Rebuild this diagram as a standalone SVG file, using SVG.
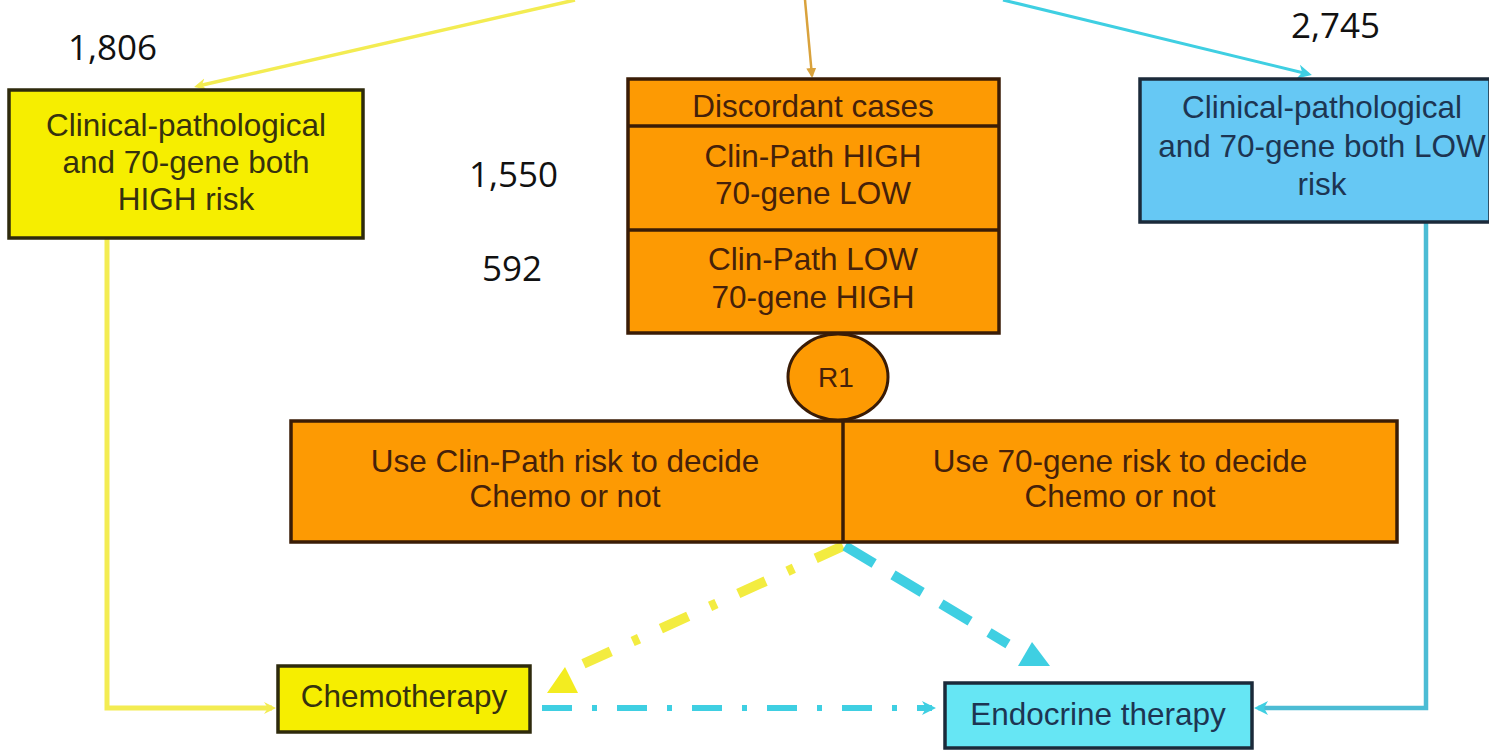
<svg xmlns="http://www.w3.org/2000/svg" width="1489" height="750" viewBox="0 0 1489 750">
  <style>
    .box { stroke-width: 3.5; }
    .yel { fill: #f6ee00; stroke: #2e2a0c; }
    .org { fill: #fd9a03; stroke: #3a1c06; }
    .blu { fill: #66c8f4; stroke: #1b2a3a; }
    .cyn { fill: #66e6f4; stroke: #1b2a3a; }
    .t { font-family: "Liberation Sans", Arial, sans-serif; font-size: 31.5px; text-anchor: middle; }
    .ty { fill: #36320e; }
    .to { fill: #45210a; }
    .tb { fill: #1d3552; }
    .num { font-family: "Open Sans", "Noto Sans", sans-serif; font-size: 35px; fill: #111; }
    .ly { stroke: #f3ec52; fill: none; }
    .lb { stroke: #3fcfe2; fill: none; }
  </style>
  <defs>
    <marker id="mY" markerUnits="userSpaceOnUse" markerWidth="16" markerHeight="16" refX="8" refY="8" orient="auto">
      <path d="M0,2 L12,8 L0,14 L4,8 Z" fill="#f3ec52"/>
    </marker>
    <marker id="mB" markerUnits="userSpaceOnUse" markerWidth="18" markerHeight="18" refX="10" refY="9" orient="auto">
      <path d="M0,2 L14,9 L0,16 L4,9 Z" fill="#3fcfe2"/>
    </marker>
    <marker id="mO" markerUnits="userSpaceOnUse" markerWidth="12" markerHeight="12" refX="8" refY="6" orient="auto">
      <path d="M0,1 L10,6 L0,11 Z" fill="#d9a23c"/>
    </marker>
  </defs>

  <rect width="1489" height="750" fill="#ffffff"/>

  <g id="connectors">
    <line class="ly" x1="575" y1="0" x2="198" y2="86" stroke-width="3.5" marker-end="url(#mY)"/>
    <line x1="805" y1="0" x2="812" y2="76" stroke="#d9a23c" stroke-width="2.5" marker-end="url(#mO)"/>
    <line class="lb" x1="1003" y1="0" x2="1308" y2="74" stroke-width="3" marker-end="url(#mB)"/>
    <polyline class="ly" points="107,238 107,708 272,708" stroke-width="5" marker-end="url(#mY)"/>
    <polyline points="1426,222 1426,708 1258,708" fill="none" stroke="#4cbcd4" stroke-width="4.5" marker-end="url(#mB)"/>
    <line x1="843" y1="546" x2="583" y2="664" stroke="#f3ec40" stroke-width="10" stroke-dasharray="30 24 7 24"/>
    <polygon points="565,667 547,693 578,693" fill="#f3ec20"/>
    <line class="lb" x1="845" y1="546" x2="1008" y2="644" stroke-width="10" stroke-dasharray="34 22"/>
    <polygon points="1032,642 1018,666 1050,666" fill="#3fcfe2"/>
    <line class="lb" x1="542" y1="708" x2="932" y2="708" stroke-width="6" stroke-dasharray="30 20 5 20" marker-end="url(#mB)"/>
  </g>

  <g id="node-high">
    <rect class="box yel" x="9" y="90" width="354" height="148"/>
    <text class="t ty" x="186" y="136">Clinical-pathological</text>
    <text class="t ty" x="186" y="173">and 70-gene both</text>
    <text class="t ty" x="186" y="210">HIGH risk</text>
  </g>

  <g id="node-discordant">
    <rect class="box org" x="628" y="79" width="371" height="254"/>
    <line x1="628" y1="126" x2="999" y2="126" stroke="#3a1c06" stroke-width="3.5"/>
    <line x1="628" y1="230" x2="999" y2="230" stroke="#3a1c06" stroke-width="3.5"/>
    <text class="t to" x="813" y="117">Discordant cases</text>
    <text class="t to" x="813" y="167">Clin-Path HIGH</text>
    <text class="t to" x="813" y="204">70-gene LOW</text>
    <text class="t to" x="813" y="270">Clin-Path LOW</text>
    <text class="t to" x="813" y="308">70-gene HIGH</text>
  </g>

  <g id="node-low">
    <rect class="box blu" x="1140" y="79" width="350" height="143"/>
    <text class="t tb" x="1322" y="118">Clinical-pathological</text>
    <text class="t tb" x="1322" y="157">and 70-gene both LOW</text>
    <text class="t tb" x="1322" y="195">risk</text>
  </g>

  <g id="node-r1">
    <ellipse cx="838" cy="377" rx="50" ry="43" fill="#fd9a03" stroke="#3a1c06" stroke-width="3"/>
    <text class="t to" x="836" y="387" style="font-size:28px">R1</text>
  </g>

  <g id="node-decide">
    <rect class="box org" x="291" y="421" width="1106" height="121"/>
    <line x1="843" y1="421" x2="843" y2="542" stroke="#3a1c06" stroke-width="3.5"/>
    <text class="t to" x="565" y="472">Use Clin-Path risk to decide</text>
    <text class="t to" x="565" y="507">Chemo or not</text>
    <text class="t to" x="1120" y="472">Use 70-gene risk to decide</text>
    <text class="t to" x="1120" y="507">Chemo or not</text>
  </g>

  <g id="node-chemo">
    <rect class="box yel" x="278" y="666" width="252" height="66"/>
    <text class="t ty" x="404" y="707">Chemotherapy</text>
  </g>

  <g id="node-endocrine">
    <rect class="box cyn" x="945" y="683" width="307" height="65"/>
    <text class="t tb" x="1098" y="725">Endocrine therapy</text>
  </g>

  <g id="numbers">
    <text class="num" x="68" y="60">1,806</text>
    <text class="num" x="1291" y="38">2,745</text>
    <text class="num" x="469" y="187">1,550</text>
    <text class="num" x="482" y="281">592</text>
  </g>
</svg>
